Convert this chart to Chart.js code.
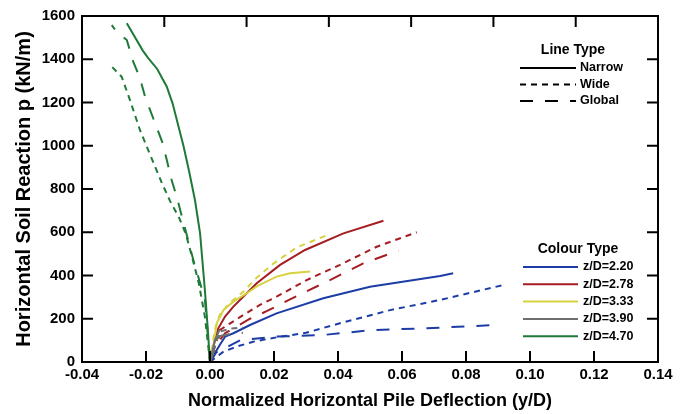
<!DOCTYPE html>
<html>
<head>
<meta charset="utf-8">
<script src="https://cdn.jsdelivr.net/npm/chart.js@4.4.0/dist/chart.umd.min.js"></script>
<style>
  body { margin: 0; background: #fff; }
  #wrap { width: 688px; height: 414px; }
</style>
</head>
<body>
<div id="wrap"><canvas id="chart"></canvas></div>
<script>
// Data: [y/D, p (kN/m)]
const blueNarrow = [[0,0],[0.0015,40],[0.0031,80],[0.0047,117],[0.0073,133],[0.0125,171],[0.0208,225],[0.0354,295],[0.050,348],[0.0719,398],[0.076,410]];
const blueWide = [[0,0],[0.0042,48],[0.0083,71],[0.0135,94],[0.0208,114],[0.030,135],[0.0406,179],[0.0563,240],[0.0719,287],[0.0917,356]];
const blueGlobal = [[0,0],[0.002,45],[0.0094,100],[0.0198,117],[0.0354,125],[0.051,148],[0.0677,156],[0.0896,171]];

const redNarrow = [[0,0],[0.0012,80],[0.0026,156],[0.0047,210],[0.0073,256],[0.0125,333],[0.0146,364],[0.0219,449],[0.0297,518],[0.0417,595],[0.0542,653]];
const redWide = [[0,0],[0.0031,148],[0.0063,179],[0.0104,217],[0.0156,264],[0.0208,302],[0.0302,379],[0.0406,449],[0.0521,533],[0.0646,600]];
const redGlobal = [[0,0],[0.002,80],[0.0047,133],[0.0125,200],[0.0177,235],[0.025,290],[0.0375,379],[0.0479,456],[0.0589,515]];

const yellowNarrow = [[0,0],[0.001,71],[0.0021,179],[0.0042,240],[0.0073,279],[0.0115,318],[0.0146,350],[0.0208,395],[0.025,410],[0.0313,418]];
const yellowWide = [[0,0],[0.0015,150],[0.0031,220],[0.0063,275],[0.0104,325],[0.0146,390],[0.0198,455],[0.0271,530],[0.0375,592]];

const greyNarrow = [[0,0],[0.0015,100],[0.003,150]];
const greyWide = [[0,0],[0.003,140],[0.0065,155],[0.0103,160]];
const greyGlobal = [[0,0],[0.003,120],[0.0065,130],[0.0103,135]];

const greenNarrow = [[0,0],[-0.0009,194],[-0.0016,333],[-0.0031,595],[-0.0047,749],[-0.0065,880],[-0.0083,1000],[-0.0117,1196],[-0.0135,1273],[-0.0165,1355],[-0.0193,1405],[-0.021,1440],[-0.026,1566]];
const greenWide = [[0,0],[-0.0016,210],[-0.0035,364],[-0.0055,480],[-0.0075,590],[-0.0096,665],[-0.0125,745],[-0.0151,830],[-0.0182,940],[-0.0219,1073],[-0.025,1211],[-0.0276,1319],[-0.0307,1366]];
const greenGlobal = [[0,0],[-0.0016,290],[-0.0052,472],[-0.0063,533],[-0.0104,764],[-0.012,842],[-0.0135,934],[-0.0148,1012],[-0.0203,1227],[-0.0219,1313],[-0.024,1389],[-0.026,1489],[-0.0292,1527],[-0.0307,1558]];

const colourLabels = ['z/D=2.20', 'z/D=2.78', 'z/D=3.33', 'z/D=3.90', 'z/D=4.70'];
const colours = ['#1d3da6', '#a51d22', '#d6d240', '#6f6f6f', '#1f7a38'];
const lineTypes = ['Narrow', 'Wide', 'Global'];
const dashes = { Narrow: [], Wide: [6, 5], Global: [13, 12] };

const curves = [
  [greenNarrow, 4, 'Narrow'], [greenWide, 4, 'Wide'], [greenGlobal, 4, 'Global'],
  [greyNarrow, 3, 'Narrow'], [greyWide, 3, 'Wide'], [greyGlobal, 3, 'Global'],
  [yellowNarrow, 2, 'Narrow'], [yellowWide, 2, 'Wide'],
  [redNarrow, 1, 'Narrow'], [redWide, 1, 'Wide'], [redGlobal, 1, 'Global'],
  [blueNarrow, 0, 'Narrow'], [blueWide, 0, 'Wide'], [blueGlobal, 0, 'Global']
];

const FONT = "'Liberation Sans', Arial, sans-serif";

// box, inward ticks and the two keys
const frame = {
  id: 'frame',
  afterDraw(chart) {
    const { ctx, chartArea: a, scales: { x, y } } = chart;
    ctx.save();
    ctx.strokeStyle = '#000';
    ctx.lineWidth = 2;
    ctx.strokeRect(a.left, a.top, a.right - a.left, a.bottom - a.top);
    const len = 11;
    ctx.beginPath();
    x.ticks.forEach(t => {
      const px = x.getPixelForValue(t.value);
      ctx.moveTo(px, a.bottom); ctx.lineTo(px, a.bottom - len);
    });
    for (let k = 1; k < 7; k++) {
      const px = x.getPixelForValue(x.min + k * (x.max - x.min) / 7);
      ctx.moveTo(px, a.top); ctx.lineTo(px, a.top + len);
    }
    y.ticks.forEach(t => {
      const py = y.getPixelForValue(t.value);
      ctx.moveTo(a.left, py); ctx.lineTo(a.left + len, py);
      ctx.moveTo(a.right, py); ctx.lineTo(a.right - len, py);
    });
    ctx.stroke();

    ctx.fillStyle = '#000';
    ctx.textBaseline = 'middle';
    // Line Type key
    ctx.font = 'bold 14px ' + FONT;
    ctx.textAlign = 'center';
    ctx.fillText('Line Type', 573, 50);
    ctx.font = 'bold 12.5px ' + FONT;
    ctx.textAlign = 'left';
    lineTypes.forEach((name, i) => {
      const ly = 68 + i * 16.5;
      ctx.beginPath();
      ctx.setLineDash(dashes[name]);
      ctx.lineWidth = 2;
      ctx.strokeStyle = '#000';
      ctx.moveTo(520, ly); ctx.lineTo(576, ly);
      ctx.stroke();
      ctx.fillText(name, 580, ly);
    });
    // Colour Type key
    ctx.setLineDash([]);
    ctx.font = 'bold 14px ' + FONT;
    ctx.textAlign = 'center';
    ctx.fillText('Colour Type', 578, 249);
    ctx.font = 'bold 12.5px ' + FONT;
    ctx.textAlign = 'left';
    colourLabels.forEach((name, i) => {
      const ly = 267 + i * 17.3;
      ctx.beginPath();
      ctx.strokeStyle = colours[i];
      ctx.lineWidth = 2;
      ctx.moveTo(523, ly); ctx.lineTo(578, ly);
      ctx.stroke();
      ctx.fillText(name, 583, ly);
    });
    ctx.restore();
  }
};

new Chart(document.getElementById('chart'), {
  type: 'scatter',
  data: {
    datasets: curves.map(([pts, c, type]) => ({
      label: colourLabels[c] + ' ' + type,
      data: pts.map(p => ({ x: p[0], y: p[1] })),
      showLine: true,
      borderColor: colours[c],
      borderDash: dashes[type],
      borderWidth: 2,
      pointRadius: 0,
      fill: false,
      tension: 0
    }))
  },
  options: {
    responsive: true,
    maintainAspectRatio: false,
    animation: false,
    layout: { padding: { left: 0, right: 30, top: 16, bottom: 0 } },
    plugins: { legend: { display: false }, tooltip: { enabled: false } },
    scales: {
      x: {
        type: 'linear',
        min: -0.04,
        max: 0.14,
        afterFit(s) { s.height = 52; },
        ticks: {
          stepSize: 0.02,
          padding: 4,
          color: '#000',
          font: { family: FONT, size: 15, weight: 'bold' },
          maxRotation: 0,
          callback: v => (Math.abs(v) < 1e-9 ? 0 : v).toFixed(2)
        },
        grid: { drawOnChartArea: false, drawTicks: false },
        border: { display: false },
        title: {
          display: true,
          text: 'Normalized Horizontal Pile Deflection (y/D)',
          color: '#000',
          font: { family: FONT, size: 18, weight: 'bold' },
          padding: { top: 0, bottom: 2 }
        }
      },
      y: {
        min: 0,
        max: 1600,
        afterFit(s) { s.width = 82; },
        ticks: {
          stepSize: 200,
          padding: 7,
          color: '#000',
          font: { family: FONT, size: 15, weight: 'bold' },
          callback: v => String(v)
        },
        grid: { drawOnChartArea: false, drawTicks: false },
        border: { display: false },
        title: {
          display: true,
          text: 'Horizontal Soil Reaction p (kN/m)',
          color: '#000',
          font: { family: FONT, size: 20, weight: 'bold' },
          padding: { top: 12, bottom: 0 }
        }
      }
    }
  },
  plugins: [frame]
});
</script>
</body>
</html>
